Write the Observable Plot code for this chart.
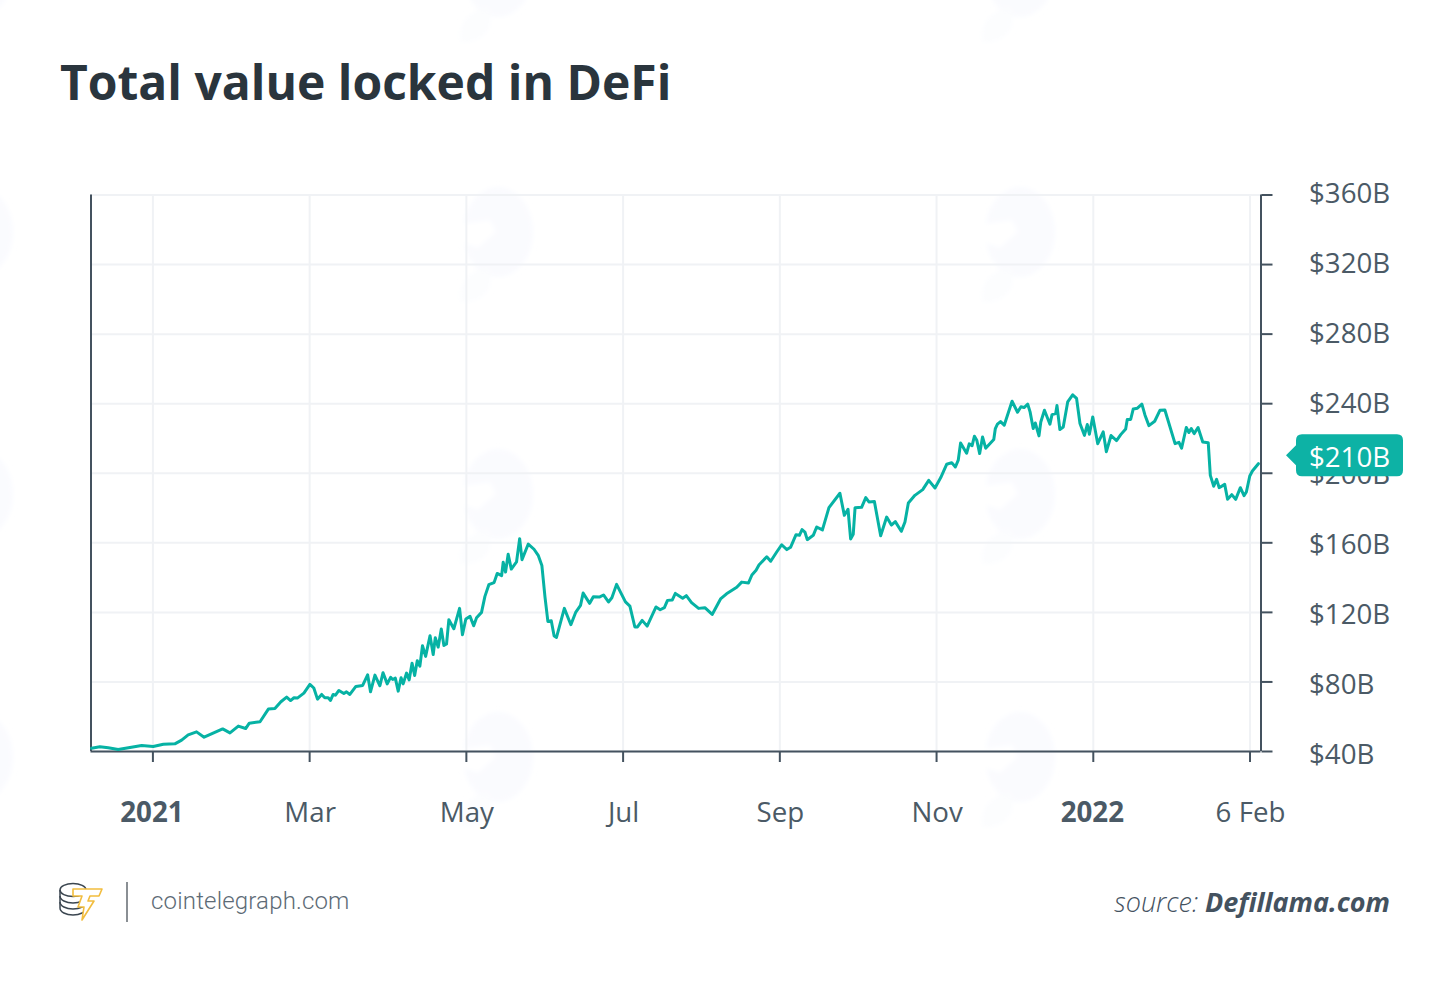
<!DOCTYPE html>
<html><head><meta charset="utf-8">
<script src="https://cdn.jsdelivr.net/npm/d3@7"></script>
<script src="https://cdn.jsdelivr.net/npm/@observablehq/plot@0.6"></script>
<style>
html,body{margin:0;padding:0;background:#fff;width:1450px;height:982px;overflow:hidden}
#page{position:relative;width:1450px;height:982px;font-family:"Open Sans",sans-serif;color:#44525f}
#wm{position:absolute;left:0;top:0}
#title{position:absolute;left:60px;top:49px;font-size:48px;font-weight:700;color:#2a353d;line-height:66px;white-space:nowrap}
#chart{position:absolute;left:0;top:150px}
#chart svg{overflow:visible;background:transparent}
#site{position:absolute;left:151px;top:885px;font-family:Roboto,sans-serif;font-weight:300;font-size:24px;line-height:32px;color:#5d6b76;letter-spacing:.18px}
#src{position:absolute;right:60px;top:882px;font-size:27px;line-height:40px;font-style:italic;font-weight:300;color:#44525f}
#src b{font-weight:700}
#logo{position:absolute;left:58px;top:880px}
#sep{position:absolute;left:126px;top:882px;width:2px;height:40px;background:#8a8f94}
</style></head><body><div id="page">
<svg id="wm" width="1450" height="982"><defs><filter id="soft" x="-30%" y="-30%" width="160%" height="160%"><feGaussianBlur stdDeviation="2.5"/></filter></defs></svg>
<div id="title">Total value locked in DeFi</div>
<div id="chart"></div>
<svg id="logo" width="48" height="44" viewBox="0 0 48 44" fill="none">
<g stroke="#3b4650" stroke-width="1.5"><ellipse cx="15" cy="10" rx="13" ry="6.5" fill="#fff"/><path d="M2 10v18c0 4 6 7 13 7s13-3 13-7V10"/><path d="M2 16c0 4 6 7 13 7s13-3 13-7M2 22c0 4 6 7 13 7s13-3 13-7"/></g>
<path d="M15 9h29l-3 7h-9l-2 5h6L24 40l2-13h-6l4-11h-9z" fill="#fff" stroke="#f2bd3e" stroke-width="1.6" stroke-linejoin="round"/>
</svg>
<div id="sep"></div>
<div id="site">cointelegraph.com</div>
<div id="src">source: <b>Defillama.com</b></div>
</div>
<script>
const tickIndex = [0, 60, 120, 180, 240, 300, 360, 420];
const tickLabels = ["2021", "Mar", "May", "Jul", "Sep", "Nov", "2022", "6 Feb"];
const boldTicks = [0, 360];
const yTicks = [40, 80, 120, 160, 200, 240, 280, 320, 360];
const lastValue = 210;

const index = [-23.5,-20.3,-17.1,-13.3,-8.8,-4.3,0.1,4,8.4,11,13.5,16.7,19.6,26.7,29.5,32.7,35.5,36.9,41,44.2,46.7,49,51.2,52.7,54,55.3,57.8,60.1,61.6,63,64.6,65.8,67.1,68,69,69.9,71.2,73.1,74.1,75.4,77.7,80.3,82.2,83.3,85,86.9,88.1,89.7,91,91.8,92.8,93.9,95,95.8,97.1,98.1,99.2,100.2,101.2,102.2,103.2,104.4,106.1,107.3,108.1,109.2,110.4,111.4,112.4,113.3,115.2,117.4,118.5,119.8,121.4,122.8,123.9,125.8,127.1,128.6,130.6,131.8,133.5,134.1,135,136,137.2,139.2,140.4,141.3,143.7,145.9,147.5,148.9,150.1,151.2,152.5,153.6,154.5,157.5,160,161.9,163.7,164.7,167.2,168.6,170.9,172.5,174.4,175.7,177.5,180.9,182.6,184.5,185.5,187.3,189.2,192.6,194.2,195.8,197,198.8,200,202.8,204.2,206.2,208.9,211.3,214.1,217.3,219.6,223.5,225.4,228,229.3,230.9,232,235,236.5,238.8,240.7,242.7,244.1,246.2,247.5,248.5,249.6,250.5,252.8,254.1,256.3,258.8,263,264.7,266.1,267.1,268.1,268.8,271.3,272.9,274.1,276.2,278.6,280.9,282.7,284.2,286.5,287.9,289.2,291.7,294.7,297,299.4,301.6,303.9,305.8,307.2,308.3,309.2,311.5,312.5,313.6,314.5,315.4,316.5,317.6,318.8,321.9,322.5,323.3,324.5,325.9,328.9,331,332.3,333.5,334.9,335.8,337,337.8,339.2,339.9,341.3,343.4,344.2,345.6,346.1,347.2,348.5,350.2,352.1,353.6,354.9,356.6,357.7,358.5,359.8,361.7,363.8,365,366.8,368.9,370.5,372.4,373,374.3,375.3,376.9,378.6,379.8,381.3,383.5,385.5,387.4,391.3,392.8,393.8,395.6,396.6,397.5,398.6,400.1,401.9,404,404.8,406.1,407.2,408.2,410.3,411.4,413,414.5,416.3,417.7,418.6,419.9,420.9,423.2];
const tvl = [41.9,42.7,42.1,41.1,42.3,43.4,42.9,44.2,44.4,46.5,49.6,51.3,48.2,53,50.7,54.6,53.2,56.3,57.1,64.4,64.7,68.6,71.3,69.3,70.9,70.7,73.6,78.6,76.5,70.1,72.8,70.9,70.9,69.4,72.8,72.4,75.1,73.4,74.3,72.8,77.4,78,84.1,74.3,83.9,77.8,85.3,78.9,82.6,81.4,82.2,74.7,82.4,78.9,85.1,81.2,90.8,83.7,92.2,89.1,100.8,94.7,106.6,95.8,105.4,100,110.4,101,101.8,115.8,110.6,122.3,107.1,116.2,117.7,112.3,116.9,120,129.2,135.9,137.1,142.4,141.1,148.8,143.2,153.4,144.9,149,162.4,150.3,159.3,156.3,152.8,147,128.8,114.8,115.2,106.4,105.6,122.3,112.9,120.2,124,131.1,125.2,129,128.8,130,126,128.4,136.1,126,123.6,111.6,111.6,115.4,112.1,123.1,121.5,122.7,126.9,127.1,130.9,128.1,129.6,125.6,122.3,122.7,118.8,127.7,130.7,134.4,137.4,136.9,141.5,144.2,147.2,152,149.4,154.7,158.9,156.1,157.4,164.7,164.3,167.6,166.2,161.8,164.3,169.1,167.4,180.2,188.5,175.8,179.3,162.2,164.9,180.2,180.4,186,183.5,183.7,164.1,174.8,170.2,172.2,166.6,172,182.9,187.3,190.6,195.9,191.5,197.5,205.2,206.1,203.6,207.5,217.4,211.5,216.9,215.9,221.3,219,211.3,220.9,214.4,219.4,225.7,228.2,229.7,227.6,241.4,235.1,238.2,237.8,239.7,235.3,225.7,228.9,221.5,229.5,236.2,228.2,233.7,234.3,238.9,225.1,226.6,241,245.1,243,228.6,221.8,228,222.4,232.4,217,223.8,212.4,221.7,218.8,222.2,225.5,230.9,230.9,237,237.4,239.7,233.4,227.4,229.9,236.2,236.4,217,217.8,214.4,226.3,223.4,225.7,222.8,226.3,218,217.6,198.8,192.5,196.5,191.7,193.6,185,187.7,185,191.7,187.1,189.2,198.4,201.3,205.5];

// faint background watermark of the original artwork
const wm = d3.select("#wm");
const wmX = [-22, 498, 1020], wmY = [-28, 232, 494, 757];
for (const cx of wmX) for (const cy of wmY) {
  const g = wm.append("g").attr("transform", `translate(${cx},${cy})`).attr("filter", "url(#soft)");
  g.append("ellipse").attr("rx", 35).attr("ry", 45).attr("fill", "#fafbfe");
  g.append("path").attr("fill", "#fcfdfe").attr("d", "M-10 35C0 60-20 72-38 70C-40 50-30 40-10 35Z");
  g.append("path").attr("fill", "#fff").attr("d", "M-36 -8L-8 -12L-2 0L-20 16L-36 10Z");
}

const series = index.map((t, i) => ({t, v: tvl[i]}));
const labelOf = new Map(tickIndex.map((t, i) => [t, tickLabels[i]]));
const ink = "#44525f", teal = "#06b2a4", grid = "#f0f2f5", tickText = "#4b5a66";

const callout = (idx, scales) => {
  const y = scales.y(lastValue), x0 = 1296, x1 = 1403, h = 21, r = 6;
  const g = d3.create("svg:g");
  g.append("path").attr("fill", "#0db2a5").attr("d",
    `M1286 ${y}L${x0} ${y-10}V${y-h+r}Q${x0} ${y-h} ${x0+r} ${y-h}H${x1-r}Q${x1} ${y-h} ${x1} ${y-h+r}V${y+h-r}Q${x1} ${y+h} ${x1-r} ${y+h}H${x0+r}Q${x0} ${y+h} ${x0} ${y+h-r}V${y+10}Z`);
  g.append("text").attr("x", (x0 + x1) / 2).attr("y", y + 2).attr("dy", "0.34em")
    .attr("text-anchor", "middle").attr("fill", "#fff").attr("font-size", 27.7)
    .text("$" + lastValue + "B");
  return g.node();
};

const plot = Plot.plot({
  width: 1450, height: 700,
  marginLeft: 90.5, marginRight: 189.5, marginTop: 44.5, marginBottom: 99,
  style: {background: "transparent", fontFamily: '"Open Sans",sans-serif', overflow: "visible"},
  x: {type: "linear", domain: [-23.7, 424.2]},
  y: {type: "linear", domain: [40, 360]},
  marks: [
    Plot.gridX(tickIndex, {stroke: grid, strokeOpacity: 1, strokeWidth: 2}),
    Plot.gridY(yTicks, {stroke: grid, strokeOpacity: 1, strokeWidth: 2}),
    Plot.axisX(tickIndex, {tickSize: 11, stroke: ink, strokeWidth: 2, tickFormat: () => "", label: null}),
    Plot.axisX(tickIndex.filter(t => !boldTicks.includes(t)), {tickSize: 0, tickPadding: 51, dx: 0.5, fontSize: 27.7, fill: tickText, label: null, tickFormat: t => labelOf.get(t)}),
    Plot.axisX(boldTicks, {tickSize: 0, tickPadding: 51, fontSize: 27.7, fontWeight: 700, fill: tickText, label: null, tickFormat: t => labelOf.get(t), dx: -1}),
    Plot.axisY(yTicks, {anchor: "right", tickSize: 11, stroke: ink, strokeWidth: 2, tickFormat: () => "", label: null}),
    // the labels sit on a slightly wider pitch than the ticks in the original
    ...yTicks.map(v => Plot.axisY([v], {anchor: "right", tickSize: 0, tickPadding: 48, dy: (200 - v) * 0.0156 + 1.4, fontSize: 27.7, fill: tickText, label: null, textAnchor: "start", tickFormat: d => `$${d}B`})),
    Plot.ruleX([-23.7, 424.2], {stroke: ink, strokeWidth: 2}),
    Plot.ruleY([40], {stroke: ink, strokeWidth: 2}),
    Plot.line(series, {x: "t", y: "v", stroke: teal, strokeWidth: 3, curve: "linear"}),
    callout
  ]
});
document.getElementById("chart").append(plot);
</script></body></html>
